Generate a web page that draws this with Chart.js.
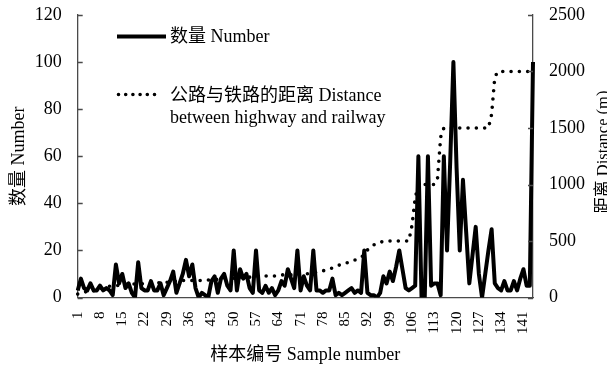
<!DOCTYPE html>
<html>
<head>
<meta charset="utf-8">
<script src="https://cdn.jsdelivr.net/npm/chart.js@4.4.1/dist/chart.umd.min.js"></script>
<style>
  html, body { margin: 0; padding: 0; background: #ffffff; overflow: hidden; }
  #wrap { width: 625px; height: 367px; }
</style>
</head>
<body>
<div id="wrap"><canvas id="c" width="625" height="367"></canvas></div>
<script>
// Sample numbers 1..144 along the category axis
const sampleNumbers = Array.from({ length: 144 }, (_, i) => String(i + 1));
const labelEvery = 7;

// 数量 Number (left axis)
const numberValues = [
  3, 8, 4, 3, 6, 3, 3, 5, 3, 4,
  3, 1, 14, 6, 10, 4, 6, 2, 0, 15,
  4, 3, 3, 7, 3, 3, 6, 1, 4, 7,
  11, 2, 6, 10, 16, 9, 14, 4, 0, 2,
  1, 0, 7, 9, 2, 8, 10, 5, 3, 20,
  3, 12, 8, 10, 4, 2, 20, 3, 2, 5,
  2, 4, 1, 3, 7, 5, 12, 8, 4, 20,
  3, 9, 5, 3, 20, 3, 3, 2, 3, 3,
  8, 1, 2, 1, 2, 3, 4, 2, 3, 2,
  20, 2, 1, 1, 0, 2, 9, 6, 11, 7,
  13, 20, 12, 4, 3, 4, 5, 60, 0, 0,
  60, 5, 6, 6, 1, 60, 20, 58, 100, 55,
  20, 50, 28, 6, 18, 30, 10, 0, 10, 20,
  29, 6, 4, 3, 7, 3, 3, 7, 3, 8,
  12, 5, 5, 100
];

// 公路与铁路的距离 Distance between highway and railway (right axis, m)
const distanceValues = [
  30, 40, 50, 50, 60, 60, 70, 80, 80, 90,
  100, 100, 100, 110, 110, 120, 120, 120, 120, 120,
  120, 125, 125, 130, 130, 130, 130, 130, 135, 140,
  140, 145, 150, 150, 150, 150, 150, 150, 150, 150,
  150, 155, 160, 160, 160, 165, 170, 170, 170, 170,
  175, 180, 180, 180, 180, 180, 185, 185, 190, 190,
  190, 190, 190, 195, 200, 200, 200, 200, 200, 200,
  200, 205, 210, 210, 215, 225, 230, 236, 242, 250,
  262, 273, 285, 297, 303, 310, 318, 330, 342, 355,
  380, 420, 445, 465, 480, 490, 495, 500, 500, 500,
  500, 500, 500, 500, 500, 640, 880, 1000, 1000, 1000,
  1000, 1000, 1000, 1050, 1420, 1500, 1500, 1500, 1500, 1500,
  1500, 1500, 1500, 1500, 1500, 1500, 1500, 1500, 1500, 1500,
  1620, 1950, 2000, 2000, 2000, 2000, 2000, 2000, 2000, 2000,
  2000, 2000, 2000, 2000
];

const leftTicks = [0, 20, 40, 60, 80, 100, 120];
const rightTicks = [0, 500, 1000, 1500, 2000, 2500];

const numberLabel = '数量 Number';
const distanceLabelLines = ['公路与铁路的距离 Distance', 'between highway and railway'];
const xTitle = '样本编号 Sample number';
const yTitle = '数量 Number';
const y2Title = '距离 Distance (m)';

const SERIF = '"Liberation Serif", "Times New Roman", "Noto Sans CJK SC", serif';
const AXIS_COLOR = '#4a4a4a';
const HIDDEN = 'rgba(0,0,0,0)';

// Inward tick marks, legend and axis titles
const decor = {
  id: 'decor',
  afterDraw(chart) {
    const ctx = chart.ctx;
    const { left, right } = chart.chartArea;
    const yL = chart.scales.y, yR = chart.scales.y2;
    ctx.save();

    ctx.strokeStyle = AXIS_COLOR;
    ctx.lineWidth = 1.3;
    ctx.beginPath();
    yL.ticks.forEach((t, i) => {
      const py = Math.round(yL.getPixelForTick(i)) + 0.5;
      ctx.moveTo(left, py); ctx.lineTo(left + 5, py);
    });
    yR.ticks.forEach((t, i) => {
      const py = Math.round(yR.getPixelForTick(i)) + 0.5;
      ctx.moveTo(right, py); ctx.lineTo(right - 5, py);
    });
    ctx.stroke();

    // legend
    const dsN = chart.data.datasets[0], dsD = chart.data.datasets[1];
    ctx.fillStyle = '#000';
    ctx.textBaseline = 'middle';
    ctx.textAlign = 'left';
    ctx.font = '18px ' + SERIF;

    ctx.strokeStyle = dsN.borderColor;
    ctx.lineWidth = dsN.borderWidth;
    ctx.lineCap = 'butt';
    ctx.beginPath(); ctx.moveTo(117, 36.5); ctx.lineTo(166, 36.5); ctx.stroke();
    ctx.fillText(numberLabel, 170, 37);

    ctx.strokeStyle = dsD.borderColor;
    ctx.lineWidth = dsD.borderWidth;
    ctx.lineCap = 'round';
    ctx.setLineDash([0, 7.2]);
    ctx.beginPath(); ctx.moveTo(118.5, 94.5); ctx.lineTo(155, 94.5); ctx.stroke();
    ctx.setLineDash([]);
    ctx.fillText(distanceLabelLines[0], 170, 96);
    ctx.fillText(distanceLabelLines[1], 170, 118);

    // axis titles
    ctx.textAlign = 'center';
    ctx.font = '18px ' + SERIF;
    ctx.fillText(xTitle, (left + right) / 2, 355);

    ctx.save();
    ctx.translate(19, (yL.top + yL.bottom) / 2);
    ctx.rotate(-Math.PI / 2);
    ctx.fillText(yTitle, 0, 0);
    ctx.restore();

    ctx.font = '16.5px ' + SERIF;
    ctx.save();
    ctx.translate(603.5, 152);
    ctx.rotate(-Math.PI / 2);
    ctx.fillText(y2Title, 0, 0);
    ctx.restore();

    ctx.restore();
  }
};

new Chart(document.getElementById('c'), {
  type: 'line',
  data: {
    labels: sampleNumbers,
    datasets: [
      {
        label: numberLabel,
        data: numberValues,
        yAxisID: 'y',
        borderColor: '#000000',
        borderWidth: 4,
        borderJoinStyle: 'round',
        pointRadius: 0,
        tension: 0,
        order: 0
      },
      {
        label: distanceLabelLines.join(' '),
        data: distanceValues,
        yAxisID: 'y2',
        borderColor: '#000000',
        borderWidth: 3.6,
        borderDash: [0, 8.3],
        borderCapStyle: 'round',
        pointRadius: 0,
        tension: 0,
        order: 1
      }
    ]
  },
  options: {
    responsive: false,
    animation: false,
    devicePixelRatio: 1,
    layout: { padding: { top: 15, left: 0, right: 0, bottom: 0 } },
    plugins: { legend: { display: false }, tooltip: { enabled: false } },
    scales: {
      x: {
        type: 'category',
        offset: false,
        grid: { display: true, drawOnChartArea: false, drawTicks: true, tickLength: 14, color: HIDDEN },
        border: { display: true, color: AXIS_COLOR, width: 1.3 },
        ticks: {
          autoSkip: false,
          minRotation: 90,
          maxRotation: 90,
          padding: 0,
          color: '#000',
          font: { family: SERIF, size: 15 },
          callback: (v, i) => (i % labelEvery === 0 ? sampleNumbers[i] : '')
        },
        afterFit: s => { s.height = 69.5; }
      },
      y: {
        position: 'left',
        min: leftTicks[0],
        max: leftTicks[leftTicks.length - 1],
        afterBuildTicks: s => { s.ticks = leftTicks.map(v => ({ value: v })); },
        grid: { display: true, drawOnChartArea: false, drawTicks: true, tickLength: 16, color: HIDDEN },
        border: { display: true, color: AXIS_COLOR, width: 1.3 },
        ticks: { padding: 0, color: '#000', font: { family: SERIF, size: 18 }, callback: v => String(v) },
        afterFit: s => { s.width = 77.7; }
      },
      y2: {
        position: 'right',
        min: rightTicks[0],
        max: rightTicks[rightTicks.length - 1],
        afterBuildTicks: s => { s.ticks = rightTicks.map(v => ({ value: v })); },
        grid: { display: true, drawOnChartArea: false, drawTicks: true, tickLength: 16, color: HIDDEN },
        border: { display: true, color: AXIS_COLOR, width: 1.3 },
        ticks: { padding: 0, color: '#000', font: { family: SERIF, size: 18 }, callback: v => String(v) },
        afterFit: s => { s.width = 92; }
      }
    }
  },
  plugins: [decor]
});
</script>
</body>
</html>
